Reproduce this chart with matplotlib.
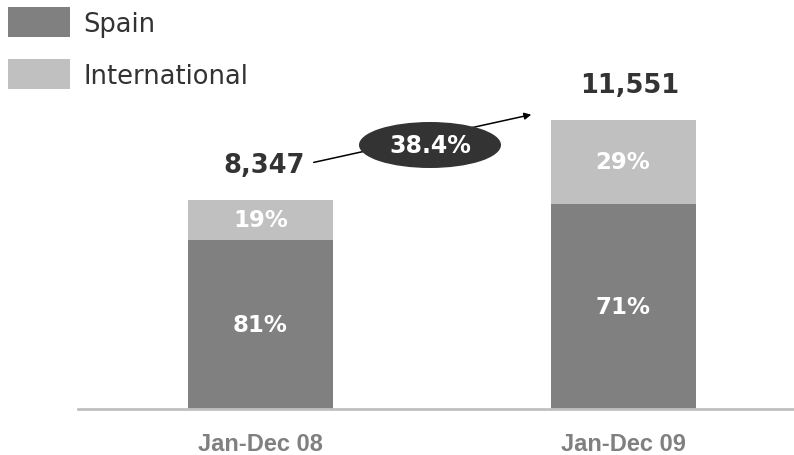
import matplotlib
matplotlib.use("Agg")
import matplotlib.pyplot as plt
from matplotlib.patches import Ellipse, Rectangle, FancyArrowPatch

categories = ["Jan-Dec 08", "Jan-Dec 09"]
totals = [8347, 11551]
spain_pct = [81, 71]
intl_pct = [19, 29]
growth_label = "38.4%"
series_names = ["Spain", "International"]

spain_color = "#808080"
intl_color = "#c0c0c0"
dark = "#333333"

W, H = 794, 456
fig = plt.figure(figsize=(W / 100, H / 100), dpi=100)

def fx(px):
    return px / W

def fy(py):
    return 1 - py / H

# axes: baseline at y=410 px, left at x=78 px
ax = fig.add_axes([fx(78), fy(410), fx(794 - 78), 410 / H])
units_per_px = 39.95
ax.set_ylim(0, 410 * units_per_px)
px_per_unit_x = 362.5
ax.set_xlim(-(260.5 - 78) / px_per_unit_x, 1 + (794 - 623) / px_per_unit_x)
ax.axis("off")

x = list(range(len(categories)))
spain_vals = [t * s / 100 for t, s in zip(totals, spain_pct)]
intl_vals = [t - s for t, s in zip(totals, spain_vals)]
bw = 145 / px_per_unit_x
ax.bar(x, spain_vals, width=bw, color=spain_color, linewidth=0)
ax.bar(x, intl_vals, width=bw, bottom=spain_vals, color=intl_color, linewidth=0)

ax.axhline(0, color="#c0c0c0", linewidth=2, clip_on=False)

for i in x:
    ax.text(i, spain_vals[i] / 2, f"{spain_pct[i]}%", ha="center", va="center",
            color="white", fontsize=16.5, fontweight="bold", family="DejaVu Sans")
    ax.text(i, spain_vals[i] + intl_vals[i] / 2, f"{intl_pct[i]}%", ha="center", va="center",
            color="white", fontsize=16.5, fontweight="bold", family="DejaVu Sans")
    ax.text(i, -35 * units_per_px, categories[i], ha="center", va="center",
            color="#808080", fontsize=17, fontweight="bold", family="Liberation Sans")

# total labels
fig.text(fx(264), fy(166), f"{totals[0]:,}", ha="center", va="center",
         color=dark, fontsize=18.5, fontweight="bold", family="DejaVu Sans")
fig.text(fx(630), fy(86), f"{totals[1]:,}", ha="center", va="center",
         color=dark, fontsize=18.5, fontweight="bold", family="DejaVu Sans")

# growth arrow
fig.add_artist(FancyArrowPatch(
    (fx(311), fy(164)), (fx(534), fy(115)), transform=fig.transFigure,
    arrowstyle="-|>", mutation_scale=10, color="black", linewidth=1.1))
fig.add_artist(Ellipse((fx(430), fy(146)), fx(142), 46 / H, transform=fig.transFigure,
                       facecolor=dark, edgecolor="none"))
fig.text(fx(430), fy(146), growth_label, ha="center", va="center",
         color="white", fontsize=17, fontweight="bold", family="DejaVu Sans")

# legend
for j, (name, col) in enumerate(zip(series_names, [spain_color, intl_color])):
    ytop = 8 + j * 52
    fig.add_artist(Rectangle((fx(8), fy(ytop + 30)), fx(62), 30 / H,
                             transform=fig.transFigure, facecolor=col, edgecolor="none"))
    fig.text(fx(83), fy(ytop + 17), name, ha="left", va="center",
             color=dark, fontsize=18.5, family="DejaVu Sans")

fig.savefig("out.png", dpi=100, facecolor="white")
